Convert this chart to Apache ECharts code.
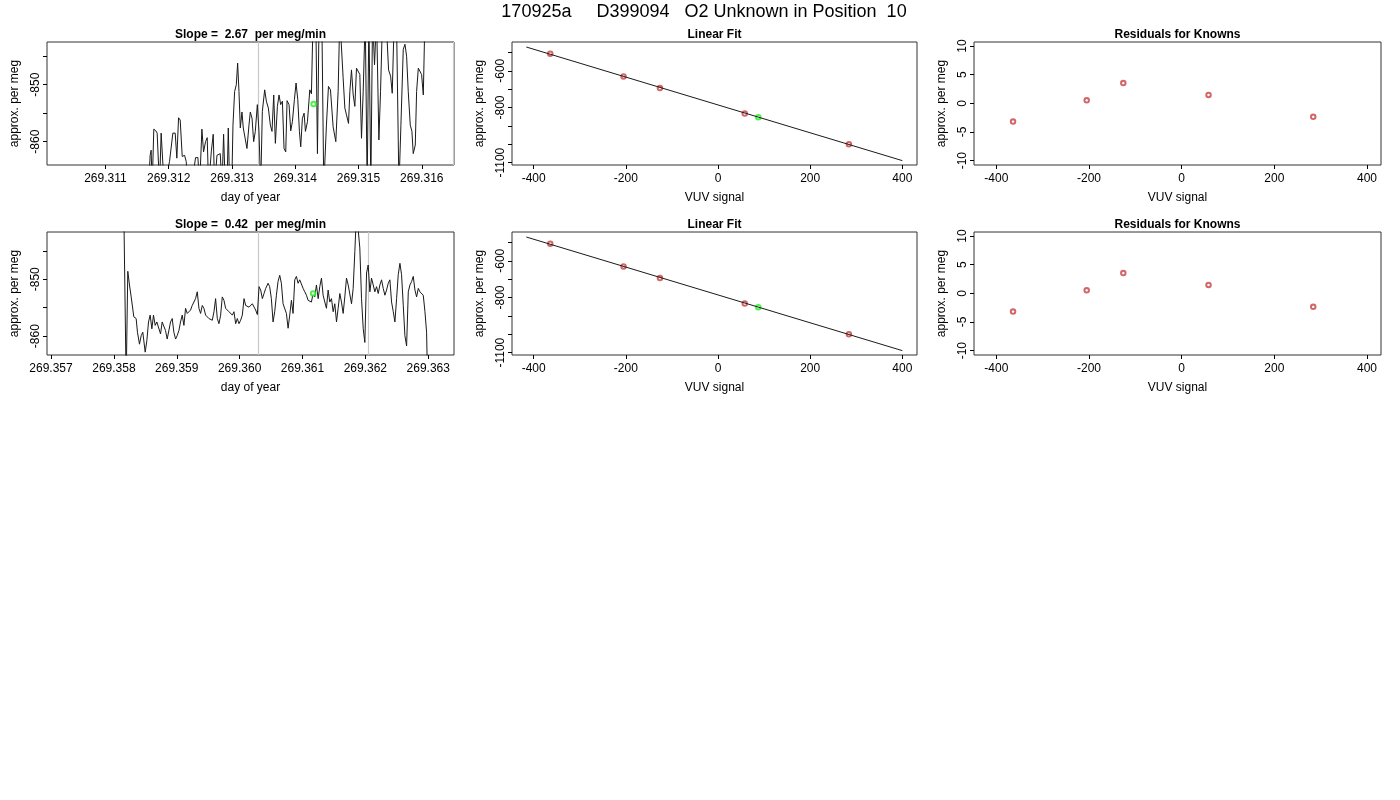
<!DOCTYPE html>
<html>
<head>
<meta charset="utf-8">
<title>170925a D399094</title>
<script src="https://cdn.jsdelivr.net/npm/echarts@6/dist/echarts.min.js"></script>
<style>
  html, body { margin: 0; padding: 0; background: #fff; }
  #chart { width: 1400px; height: 800px; }
</style>
</head>
<body>
<div id="chart"></div>
<script>
// ---- data ----
const mainTitle = "170925a     D399094   O2 Unknown in Position  10";
const slopeTitles = ["Slope =  2.67  per meg/min", "Slope =  0.42  per meg/min"];

// run 1 (top row), day of year vs approx. per meg; off-scale values stand in for clipped spikes
const topTime = [
  269.311681, 269.311707, 269.311723, 269.311739, 269.311765, 269.311797, 269.311818, 269.311834,
  269.311855, 269.311881, 269.311908, 269.311929, 269.311987, 269.312013, 269.312040, 269.312066,
  269.312103, 269.312129, 269.312156, 269.312182, 269.312214, 269.312251, 269.312277, 269.312303,
  269.312383, 269.312425, 269.312462, 269.312488, 269.312525, 269.312551, 269.312583, 269.312609,
  269.312631, 269.312673, 269.312704, 269.312726, 269.312763, 269.312794, 269.312815, 269.312842,
  269.312868, 269.312894, 269.312926, 269.312942, 269.312963, 269.313000, 269.313016, 269.313042,
  269.313069, 269.313090, 269.313111, 269.313132, 269.313158, 269.313179, 269.313206, 269.313237,
  269.313269, 269.313290, 269.313317, 269.313343, 269.313369, 269.313401, 269.313427, 269.313454,
  269.313480, 269.313517, 269.313544, 269.313575, 269.313607, 269.313633, 269.313660, 269.313686,
  269.313718, 269.313744, 269.313770, 269.313797, 269.313823, 269.313850, 269.313871, 269.313902,
  269.313929, 269.313955, 269.313987, 269.314013, 269.314040, 269.314066, 269.314087, 269.314113,
  269.314140, 269.314161, 269.314193, 269.314230, 269.314256, 269.314282, 269.314325, 269.314351,
  269.314377, 269.314420, 269.314451, 269.314493, 269.314525, 269.314557, 269.314599, 269.314641,
  269.314678, 269.314704, 269.314731, 269.314757, 269.314784, 269.314810, 269.314842, 269.314863,
  269.314889, 269.314916, 269.314942, 269.314968, 269.314995, 269.315021, 269.315047, 269.315074,
  269.315106, 269.315137, 269.315164, 269.315195, 269.315222, 269.315253, 269.315285, 269.315322,
  269.315348, 269.315380, 269.315443, 269.315475, 269.315507, 269.315533, 269.315565, 269.315602,
  269.315639, 269.315670, 269.315707, 269.315734, 269.315760, 269.315786, 269.315818, 269.315844,
  269.315865, 269.315897, 269.315918, 269.315945, 269.315971, 269.315997, 269.316024, 269.316050
];
const topVal = [
  -868, -862.4, -861.5, -868, -857.8, -858.1, -858.5, -858.4,
  -868, -858.5, -858.4, -868, -865, -863.5, -863.2, -858.5,
  -858.5, -862.9, -855.8, -856.2, -862.6, -862.4, -863.5, -868,
  -866, -862.8, -862.8, -868, -857.8, -861.8, -860, -859.3,
  -868, -861.8, -858.7, -868, -862.4, -862.1, -862.1, -868,
  -858.7, -868, -866, -857.6, -868, -866, -857.1, -851.2,
  -850, -846.2, -851.2, -857.6, -854.8, -857.6, -857.4, -861.2,
  -857.1, -854.8, -855.9, -860, -858.2, -853.5, -858.2, -868,
  -854.7, -850.9, -852.9, -854.1, -857.1, -858.2, -851.8, -860.3,
  -853.8, -851.8, -853.5, -852.9, -861.2, -861.8, -852.8, -853.5,
  -858.1, -856.5, -852.6, -849.7, -852.6, -858.2, -860.9, -855.9,
  -855, -858.2, -856.5, -850.9, -851.6, -838, -838, -862.1,
  -838, -838, -868, -857.1, -850.3, -850.9, -857.4, -860,
  -851.2, -838, -838, -848.8, -854.1, -855.3, -856.8, -851.2,
  -847.4, -851.8, -853.8, -847.1, -846.8, -848.2, -859.4, -851.2,
  -838, -868, -838, -868, -838, -846.5, -838, -859.7,
  -851.2, -838, -840, -847.4, -848.5, -851.5, -838, -840,
  -868, -857.1, -843.8, -842.9, -845, -851.2, -857.1, -858.2,
  -862.1, -860.6, -851.2, -847.1, -846.8, -848.2, -851.8, -838
];

// run 2 (bottom row)
const botTime = [
  269.358158, 269.358195, 269.358221, 269.358248, 269.358275, 269.358291, 269.358317, 269.358354,
  269.358375, 269.358407, 269.358434, 269.358460, 269.358498, 269.358524, 269.358551, 269.358577,
  269.358604, 269.358630, 269.358657, 269.358683, 269.358710, 269.358742, 269.358768, 269.358795,
  269.358821, 269.358848, 269.358875, 269.358901, 269.358928, 269.358954, 269.358981, 269.359007,
  269.359034, 269.359060, 269.359087, 269.359114, 269.359140, 269.359167, 269.359193, 269.359220,
  269.359246, 269.359273, 269.359299, 269.359326, 269.359353, 269.359379, 269.359406, 269.359432,
  269.359459, 269.359485, 269.359512, 269.359538, 269.359565, 269.359592, 269.359618, 269.359645,
  269.359671, 269.359698, 269.359724, 269.359751, 269.359777, 269.359804, 269.359831, 269.359857,
  269.359884, 269.359910, 269.359937, 269.359963, 269.359990, 269.360016, 269.360043, 269.360070,
  269.360096, 269.360123, 269.360149, 269.360176, 269.360202, 269.360229, 269.360255, 269.360282,
  269.360309, 269.360335, 269.360362, 269.360388, 269.360415, 269.360452, 269.360478, 269.360505,
  269.360532, 269.360558, 269.360585, 269.360611, 269.360638, 269.360664, 269.360691, 269.360717,
  269.360744, 269.360771, 269.360797, 269.360824, 269.360850, 269.360877, 269.360903, 269.360930,
  269.360956, 269.360983, 269.361010, 269.361036, 269.361063, 269.361089, 269.361116, 269.361142,
  269.361169, 269.361195, 269.361222, 269.361249, 269.361275, 269.361302, 269.361328, 269.361355,
  269.361381, 269.361408, 269.361434, 269.361461, 269.361488, 269.361514, 269.361541, 269.361567,
  269.361594, 269.361620, 269.361647, 269.361673, 269.361700, 269.361727, 269.361753, 269.361780,
  269.361806, 269.361833, 269.361859, 269.361886, 269.361912, 269.361939, 269.361966, 269.361992,
  269.362019, 269.362045, 269.362072, 269.362098, 269.362125, 269.362151, 269.362178, 269.362205,
  269.362231, 269.362258, 269.362284, 269.362311, 269.362337, 269.362364, 269.362390, 269.362417,
  269.362444, 269.362470, 269.362497, 269.362523, 269.362550, 269.362576, 269.362603, 269.362629,
  269.362656, 269.362683, 269.362709, 269.362736, 269.362762, 269.362789, 269.362815, 269.362842,
  269.362868, 269.362895, 269.362921, 269.362948, 269.362974, 269.362990
];
const botVal = [
  -838, -868, -848.6, -851.0, -853.1, -853.3, -856.6, -856.9,
  -859.3, -861.4, -859.9, -859.3, -862.8, -860.8, -857.5, -856.3,
  -858.7, -856.3, -858.1, -857.5, -857.2, -859.6, -857.5, -857.2,
  -859.0, -860.5, -860.2, -857.5, -856.9, -859.3, -860.5, -859.9,
  -859.0, -857.5, -856.3, -858.1, -855.1, -856.0, -855.7, -855.4,
  -854.6, -854.3, -853.4, -852.2, -855.1, -856.0, -854.6, -855.1,
  -856.3, -856.0, -856.9, -856.6, -857.2, -855.7, -853.4, -856.9,
  -857.8, -856.3, -853.1, -853.7, -855.1, -855.4, -855.7, -855.4,
  -856.3, -855.7, -857.8, -856.9, -857.8, -857.2, -856.3, -853.4,
  -854.6, -854.3, -854.9, -855.1, -854.3, -854.6, -855.4, -856.2,
  -851.3, -851.9, -853.4, -852.5, -851.6, -850.7, -851.3, -853.4,
  -857.5, -855.7, -852.8, -850.4, -849.3, -850.7, -854.3, -854.6,
  -856.0, -858.6, -856.3, -853.7, -856.0, -850.1, -849.5, -850.7,
  -850.1, -849.8, -851.6, -852.2, -852.8, -853.7, -853.7, -854.0,
  -852.5, -853.1, -851.0, -853.4, -851.3, -849.8, -852.8, -854.0,
  -855.1, -851.9, -854.0, -853.4, -855.7, -854.3, -857.5, -855.1,
  -852.5, -854.0, -856.0, -853.1, -849.8, -851.0, -851.3, -854.3,
  -851.6, -845.1, -838, -838, -844.5, -853.4, -858.7, -861.1,
  -848.9, -847.5, -852.2, -849.8, -851.0, -852.2, -851.3, -852.5,
  -851.0, -850.1, -851.6, -852.8, -851.9, -850.7, -850.1, -854.0,
  -855.7, -857.5, -853.4, -849.2, -847.2, -849.2, -854.6, -859.9,
  -861.7, -852.2, -851.0, -850.4, -849.5, -851.9, -853.1, -851.6,
  -852.2, -852.5, -852.8, -855.7, -859.3, -868
];

// unknown sample (green) in each run
const unknownTime = [269.31429, 269.361169];
const unknownVal = [-853.4, -852.5];
// reference injection markers (grey verticals)
const markerTimes = [[269.313412, 269.31649], [269.360293, 269.362045]];

// linear fit of the knowns
const knownSignal = [-364, -205, -126, 58, 284];
const knownValue = [-507.3, -630.9, -694.5, -832.7, -1000.0];
const unknownSignal = 87.4;
const unknownFitValue = -852.7;
const fitLineSignal = [-415.9, 400];
const fitLineValue = [-470.9, -1089];
const residuals = [-3.18, 0.53, 3.53, 1.47, -2.35];

// tick positions and labels
const topTicksX = [269.311, 269.312, 269.313, 269.314, 269.315, 269.316];
const botTicksX = [269.357, 269.358, 269.359, 269.360, 269.361, 269.362, 269.363];
const seriesTicksY = [-860, -855, -850, -845];
const seriesLabelsY = [-860, -850];
const fitTicksX = [-400, -200, 0, 200, 400];
const fitTicksY = [-1100, -1000, -900, -800, -700, -600, -500];
const fitLabelsY = [-1100, -800, -600];
const residTicksY = [-10, -5, 0, 5, 10];

// ---- layout ----
const FONT = "Liberation Sans, Arial, Helvetica, sans-serif";
const colLeft = [47, 512, 974];
const colWidth = [407, 405, 407];
const rowTop = [42, 232];
const rowHeight = 123;

const chart = echarts.init(document.getElementById("chart"), null, { renderer: "canvas" });

const grids = [];
const xAxes = [];
const yAxes = [];
const series = [];
const texts = [];

function zip(a, b) {
  return a.map((v, i) => [v, b[i]]);
}

function makeX(idx, min, max, ticks, fmt, name) {
  return {
    type: "value", gridIndex: idx, min: min, max: max,
    name: name, nameLocation: "middle", nameGap: 27,
    nameTextStyle: { fontFamily: FONT, fontSize: 12, color: "#000" },
    axisLine: { show: false, onZero: false },
    axisTick: { show: true, length: 4, lineStyle: { color: "#000", width: 1 }, customValues: ticks },
    axisLabel: { fontFamily: FONT, fontSize: 12, color: "#000", margin: 8, customValues: ticks, formatter: fmt },
    splitLine: { show: false }
  };
}

function makeY(idx, min, max, ticks, labels) {
  return {
    type: "value", gridIndex: idx, min: min, max: max,
    name: "approx. per meg", nameLocation: "middle", nameGap: 26,
    nameTextStyle: { fontFamily: FONT, fontSize: 12, color: "#000" },
    axisLine: { show: false, onZero: false },
    axisTick: { show: true, length: 4, lineStyle: { color: "#000", width: 1 }, customValues: ticks },
    axisLabel: {
      fontFamily: FONT, fontSize: 12, color: "#000", margin: 5, rotate: 90,
      customValues: labels, formatter: (v) => String(v)
    },
    splitLine: { show: false }
  };
}

const circle = (color) => ({
  symbol: "emptyCircle", symbolSize: 4.5,
  itemStyle: { color: color, borderColor: color, borderWidth: 0.9 }
});

const runs = [
  { time: topTime, val: topVal, ticks: topTicksX, xmin: 269.310077, xmax: 269.316509, ymin: -864.1, ymax: -842.5 },
  { time: botTime, val: botVal, ticks: botTicksX, xmin: 269.356936, xmax: 269.36341, ymin: -863.3, ymax: -841.7 }
];

runs.forEach((run, r) => {
  for (let c = 0; c < 3; c++) {
    grids.push({
      left: colLeft[c], top: rowTop[r], width: colWidth[c], height: rowHeight,
      show: true, borderColor: "#333", borderWidth: 1, backgroundColor: "transparent"
    });
  }
  const g0 = r * 3, g1 = r * 3 + 1, g2 = r * 3 + 2;

  // time series panel
  xAxes.push(makeX(g0, run.xmin, run.xmax, run.ticks, (v) => v.toFixed(3), "day of year"));
  yAxes.push(makeY(g0, run.ymin, run.ymax, seriesTicksY, seriesLabelsY));
  series.push({
    type: "line", xAxisIndex: g0, yAxisIndex: g0, data: zip(run.time, run.val),
    showSymbol: false, clip: true, animation: false, z: 3,
    lineStyle: { color: "#1a1a1a", width: 1 },
    markLine: {
      silent: true, symbol: "none", animation: false, precision: 6, z: 1,
      label: { show: false },
      lineStyle: { color: "#c8c8c8", type: "solid", width: 1.2 },
      data: markerTimes[r].map((t) => ({ xAxis: t }))
    }
  });
  series.push(Object.assign({
    type: "scatter", xAxisIndex: g0, yAxisIndex: g0, animation: false, z: 4,
    data: [[unknownTime[r], unknownVal[r]]]
  }, circle("#22ee22")));

  // linear fit panel
  xAxes.push(makeX(g1, -447, 431.8, fitTicksX, (v) => String(v), "VUV signal"));
  yAxes.push(makeY(g1, -1112.7, -443.6, fitTicksY, fitLabelsY));
  series.push({
    type: "line", xAxisIndex: g1, yAxisIndex: g1, data: zip(fitLineSignal, fitLineValue),
    showSymbol: false, animation: false, lineStyle: { color: "#1a1a1a", width: 1 }
  });
  series.push(Object.assign({
    type: "scatter", xAxisIndex: g1, yAxisIndex: g1, animation: false,
    data: zip(knownSignal, knownValue)
  }, circle("#c84040")));
  series.push(Object.assign({
    type: "scatter", xAxisIndex: g1, yAxisIndex: g1, animation: false,
    data: [[unknownSignal, unknownFitValue]]
  }, circle("#22ee22")));

  // residuals panel
  xAxes.push(makeX(g2, -448.3, 430.3, fitTicksX, (v) => String(v), "VUV signal"));
  yAxes.push(makeY(g2, -10.76, 10.7, residTicksY, residTicksY));
  series.push(Object.assign({
    type: "scatter", xAxisIndex: g2, yAxisIndex: g2, animation: false,
    data: zip(knownSignal, residuals)
  }, circle("#c84040")));

  const panelTitles = [slopeTitles[r], "Linear Fit", "Residuals for Knowns"];
  panelTitles.forEach((t, c) => {
    texts.push({
      type: "text", x: colLeft[c] + colWidth[c] / 2, y: rowTop[r] - 7.5,
      style: {
        text: t, fill: "#000", font: "bold 12px " + FONT,
        textAlign: "center", textVerticalAlign: "middle", align: "center", verticalAlign: "middle"
      }
    });
  });
});

texts.push({
  type: "text", x: 704, y: 12,
  style: {
    text: mainTitle, fill: "#000", font: "18px " + FONT,
    textAlign: "center", textVerticalAlign: "middle", align: "center", verticalAlign: "middle"
  }
});

chart.setOption({
  animation: false,
  backgroundColor: "#fff",
  grid: grids,
  xAxis: xAxes,
  yAxis: yAxes,
  series: series,
  graphic: texts
});
</script>
</body>
</html>
